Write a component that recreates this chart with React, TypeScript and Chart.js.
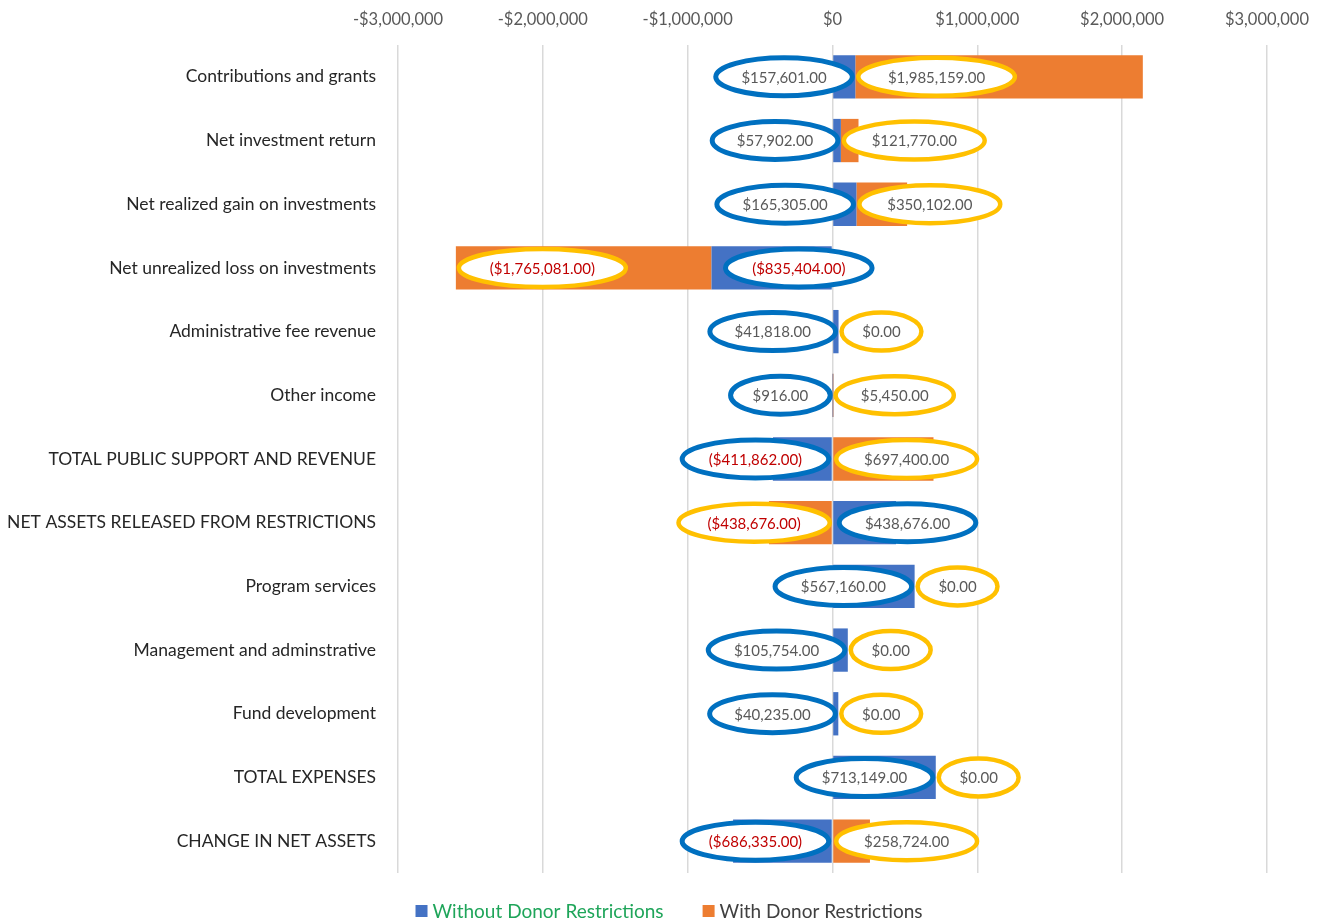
import React, { useEffect, useRef } from "react";
import { Chart, registerables } from "chart.js";

Chart.register(...registerables);

const categories = [
  "Contributions and grants",
  "Net investment return",
  "Net realized gain on investments",
  "Net unrealized loss on investments",
  "Administrative fee revenue",
  "Other income",
  "TOTAL PUBLIC SUPPORT AND REVENUE",
  "NET ASSETS RELEASED FROM RESTRICTIONS",
  "Program services",
  "Management and adminstrative",
  "Fund development",
  "TOTAL EXPENSES",
  "CHANGE IN NET ASSETS",
];

const withoutDonor = [
  157601, 57902, 165305, -835404, 41818, 916, -411862, 438676, 567160, 105754, 40235, 713149, -686335,
];

const withDonor = [
  1985159, 121770, 350102, -1765081, 0, 5450, 697400, -438676, 0, 0, 0, 0, 258724,
];

const seriesNames = ["Without Donor Restrictions", "With Donor Restrictions"];

const tickValues = [-3000000, -2000000, -1000000, 0, 1000000, 2000000, 3000000];

const FONT = "Lato, 'Open Sans', sans-serif";
const BLUE = "#4472C4";
const ORANGE = "#ED7D31";

function fmtTick(v: number): string {
  const s = "$" + Math.abs(v).toLocaleString("en-US");
  return v < 0 ? "-" + s : s;
}

function fmtLabel(v: number): string {
  const s =
    "$" +
    Math.abs(v).toLocaleString("en-US", { minimumFractionDigits: 2, maximumFractionDigits: 2 });
  return v < 0 ? "(" + s + ")" : s;
}

const ellipsePlugin = {
  id: "ellipseLabels",
  afterDatasetsDraw(chart: any) {
    const ctx = chart.ctx;
    const m0 = chart.getDatasetMeta(0);
    const m1 = chart.getDatasetMeta(1);
    ctx.save();
    ctx.font = `15px ${FONT}`;
    ctx.textAlign = "center";
    ctx.textBaseline = "middle";
    const draw = (cx: number, cy: number, w: number, h: number, stroke: string, lw: number, text: string, neg: boolean) => {
      ctx.beginPath();
      ctx.ellipse(cx, cy, w / 2, h / 2, 0, 0, Math.PI * 2);
      ctx.fillStyle = "#ffffff";
      ctx.fill();
      ctx.lineWidth = lw;
      ctx.strokeStyle = stroke;
      ctx.stroke();
      ctx.fillStyle = neg ? "#C00000" : "#595959";
      ctx.fillText(text, cx, cy + 1);
    };
    for (let i = 0; i < categories.length; i++) {
      const b = m0.data[i] as any;
      const o = m1.data[i] as any;
      const bv = withoutDonor[i];
      const ov = withDonor[i];
      const cy = b.y;
      const h = 38;
      const bt = fmtLabel(bv);
      const ot = fmtLabel(ov);
      const bw = ctx.measureText(bt).width * 1.25 + 30;
      const ow = ctx.measureText(ot).width * 1.3 + 30;
      const bL = Math.min(b.x, b.base);
      const bR = Math.max(b.x, b.base);
      const oL = Math.min(o.x, o.base);
      const oR = Math.max(o.x, o.base);
      let bcx: number;
      if (ov >= 0) bcx = bR - 3 - bw / 2;
      else bcx = bL + (bv < 0 ? 14 : 6) + bw / 2;
      let ocx: number;
      if (ov < 0 && bv > 0) ocx = oR - 2 - ow / 2;
      else ocx = oL + 3 + ow / 2;
      draw(bcx, cy, bw, h, "#0070C0", 5, bt, bv < 0);
      draw(ocx, cy, ow, h, "#FFC000", 4.5, ot, ov < 0);
    }
    ctx.restore();
  },
  afterDraw(chart: any) {
    const ctx = chart.ctx;
    ctx.save();
    ctx.font = `19px ${FONT}`;
    ctx.textBaseline = "middle";
    ctx.textAlign = "left";
    const cols = [BLUE, ORANGE];
    const textCols = ["#1FA55A", "#404040"];
    const box = 12;
    const gap = 5;
    const itemGap = 39;
    const widths = seriesNames.map((n) => ctx.measureText(n).width);
    const total = widths.reduce((a, w) => a + box + gap + w, 0) + itemGap;
    let x = chart.width / 2 + 7 - total / 2;
    const y = 911;
    seriesNames.forEach((n, i) => {
      ctx.fillStyle = cols[i];
      ctx.fillRect(x, y - box / 2, box, box);
      x += box + gap;
      ctx.fillStyle = textCols[i];
      ctx.fillText(n, x, y + 1);
      x += widths[i] + itemGap;
    });
    ctx.restore();
  },
};

export default function App() {
  const ref = useRef<HTMLCanvasElement | null>(null);
  useEffect(() => {
    if (!ref.current) return;
    const chart = new Chart(ref.current, {
      type: "bar",
      data: {
        labels: categories,
        datasets: [
          {
            label: seriesNames[0],
            data: withoutDonor,
            backgroundColor: BLUE,
            categoryPercentage: 0.68,
            barPercentage: 1,
          },
          {
            label: seriesNames[1],
            data: withDonor,
            backgroundColor: ORANGE,
            categoryPercentage: 0.68,
            barPercentage: 1,
          },
        ],
      },
      options: {
        indexAxis: "y",
        animation: false,
        responsive: false,
        maintainAspectRatio: false,
        layout: { padding: { left: 0, right: 56, top: 0, bottom: 51 } },
        scales: {
          x: {
            position: "top",
            stacked: true,
            min: -3000000,
            max: 3000000,
            afterBuildTicks(scale: any) {
              scale.ticks = tickValues.map((v) => ({ value: v }));
            },
            afterFit(scale: any) {
              scale.height = 45;
            },
            border: { display: false },
            grid: { color: "#D9D9D9", lineWidth: 1.5, drawTicks: false },
            ticks: {
              color: "#595959",
              font: { family: FONT, size: 16.5 },
              padding: 15,
              callback: (v: any) => fmtTick(Number(v)),
            },
          },
          y: {
            stacked: true,
            afterFit(scale: any) {
              scale.width = 398;
            },
            border: { display: false },
            grid: { display: false },
            ticks: {
              color: "#262626",
              font: { family: FONT, size: 17.5 },
              padding: 14,
            },
          },
        },
        plugins: {
          tooltip: { enabled: false },
          legend: { display: false },
        },
      },
      plugins: [ellipsePlugin],
    });
    return () => chart.destroy();
  }, []);
  return (
    <div style={{ position: "fixed", left: 0, top: 0, width: 1324, height: 924, background: "#fff" }}>
      <canvas ref={ref} width={1324} height={924} style={{ width: 1324, height: 924 }} />
    </div>
  );
}
